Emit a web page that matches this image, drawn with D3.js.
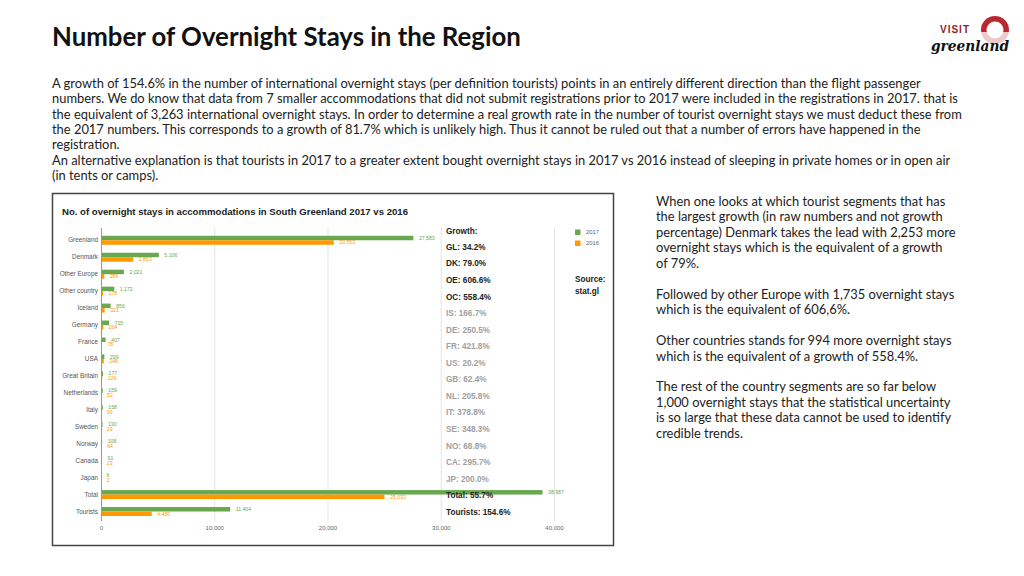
<!DOCTYPE html>
<html><head><meta charset="utf-8">
<script src="https://cdn.jsdelivr.net/npm/d3@7"></script>
<style>
html,body{margin:0;padding:0;background:#fff;}
svg{display:block;}
</style></head>
<body>
<svg id="c" width="1024" height="576"></svg>
<script>
// ---------- DATA ----------
const categories = ["Greenland","Denmark","Other Europe","Other country","Iceland","Germany","France","USA","Great Britain","Netherlands","Italy","Sweden","Norway","Canada","Japan","Total","Tourists"];
const values2017 = [27583,5106,2021,1172,856,715,407,299,177,159,158,130,108,91,6,38987,11404];
const values2016 = [20553,2853,286,178,321,204,78,248,109,52,33,29,64,23,2,25033,4480];
const seriesNames = ["2017","2016"];
const xTicks = [0,10000,20000,30000,40000];
const growthLabels = ["GL: 34.2%","DK: 79.0%","OE: 606.6%","OC: 558.4%","IS: 166.7%","DE: 250.5%","FR: 421.8%","US: 20.2%","GB: 62.4%","NL: 205.8%","IT: 378.8%","SE: 348.3%","NO: 68.8%","CA: 295.7%","JP: 200.0%","Total: 55.7%","Tourists: 154.6%"];
const growthHighlight = [true,true,true,true,false,false,false,false,false,false,false,false,false,false,false,true,true];

const pageTitle = "Number of Overnight Stays in the Region";
const introLines = [
 "A growth of 154.6% in the number of international overnight stays (per definition tourists) points in an entirely different direction than the flight passenger",
 "numbers. We do know that data from 7 smaller accommodations that did not submit registrations prior to 2017 were included in the registrations in 2017. that is",
 "the equivalent of 3,263 international overnight stays. In order to determine a real growth rate in the number of tourist overnight stays we must deduct these from",
 "the 2017 numbers. This corresponds to a growth of 81.7% which is unlikely high. Thus it cannot be ruled out that a number of errors have happened in the",
 "registration.",
 "An alternative explanation is that tourists in 2017 to a greater extent bought overnight stays in 2017 vs 2016 instead of sleeping in private homes or in open air",
 "(in tents or camps)."
];
const sideLines = [
 "When one looks at which tourist segments that has",
 "the largest growth (in raw numbers and not growth",
 "percentage) Denmark takes the lead with 2,253 more",
 "overnight stays which is the equivalent of a growth",
 "of 79%.",
 "",
 "Followed by other Europe with 1,735 overnight stays",
 "which is the equivalent of 606,6%.",
 "",
 "Other countries stands for 994 more overnight stays",
 "which is the equivalent of a growth of 558.4%.",
 "",
 "The rest of the country segments are so far below",
 "1,000 overnight stays that the statistical uncertainty",
 "is so large that these data cannot be used to identify",
 "credible trends."
];
const chartTitle = "No. of overnight stays in accommodations in South Greenland 2017 vs 2016";

// ---------- STYLE ----------
const colors = {"2017":"#6aa84f","2016":"#ff9900"};
const svg = d3.select("#c");

// Page title
svg.append("text").attr("x",52).attr("y",45.5)
  .attr("font-family","Lato").attr("font-weight",700).attr("font-size",25.8)
  .attr("fill","#111").text(pageTitle);

// Intro paragraph
svg.append("g").selectAll("text").data(introLines).join("text")
  .attr("x",52).attr("y",(d,i)=>88+i*15.35)
  .attr("font-family","Lato").attr("font-size",12.9).attr("fill","#222")
  .text(d=>d);

// Side paragraph
svg.append("g").selectAll("text").data(sideLines).join("text")
  .attr("x",656).attr("y",(d,i)=>206+i*15.45)
  .attr("font-family","Lato").attr("font-size",12.9).attr("fill","#222")
  .text(d=>d);

// Logo
const logo = svg.append("g");
logo.append("circle").attr("cx",995).attr("cy",30).attr("r",14).attr("fill","#b8282e");
logo.append("circle").attr("cx",995).attr("cy",30).attr("r",8.5).attr("fill","#fff");
logo.append("rect").attr("x",978).attr("y",32).attr("width",34).attr("height",14).attr("fill","#fff").attr("opacity",0.75);
logo.append("text").attr("x",940).attr("y",33).attr("font-family","Liberation Sans, Arial").attr("font-weight",700)
  .attr("font-size",10).attr("letter-spacing",1).attr("fill","#8e1f2a").text("VISIT");
logo.append("text").attr("x",931).attr("y",51).attr("font-family","DejaVu Serif").attr("font-style","italic")
  .attr("font-weight",700).attr("font-size",15).attr("textLength",78).attr("lengthAdjust","spacingAndGlyphs")
  .attr("fill","#111").text("greenland");

// Chart box
svg.append("rect").attr("x",52.5).attr("y",193.5).attr("width",561).attr("height",352)
  .attr("fill","#fff").attr("stroke","#444").attr("stroke-width",1.5);

svg.append("text").attr("x",62).attr("y",214.5)
  .attr("font-family","Liberation Sans, Arial").attr("font-weight",700).attr("font-size",9.6)
  .attr("fill","#222").text(chartTitle);

// Scales
const x = d3.scaleLinear().domain([0,40000]).range([101,554]);
const y = d3.scaleBand().domain(categories).range([231.8,520]).paddingInner(0.47).paddingOuter(0.235);
const ySub = d3.scaleBand().domain(seriesNames).range([0,y.bandwidth()]);

const plotTop = 228, plotBottom = 521;

// Gridlines
svg.append("g").selectAll("line").data(xTicks.slice(1)).join("line")
  .attr("x1",d=>x(d)+0.5).attr("x2",d=>x(d)+0.5).attr("y1",plotTop).attr("y2",plotBottom)
  .attr("stroke","#e3e3e3").attr("stroke-width",1);

// X axis tick labels
const xAxis = d3.axisBottom(x).tickValues(xTicks).tickSize(0).tickPadding(0).tickFormat(d3.format(","));
const gx = svg.append("g").attr("transform",`translate(0,${plotBottom+5})`).call(xAxis);
gx.select(".domain").remove();
gx.selectAll("text").attr("font-family","Liberation Sans, Arial").attr("font-size",6).attr("fill","#666");

// Y axis labels
const yAxis = d3.axisLeft(y).tickSize(0).tickPadding(3);
const gy = svg.append("g").attr("transform",`translate(${x(0)},0)`).call(yAxis);
gy.select(".domain").remove();
gy.selectAll("text").attr("font-family","Liberation Sans, Arial").attr("font-size",6.4).attr("fill","#555");

// Bars
const rows = categories.map((c,i)=>({cat:c, vals:[{s:"2017",v:values2017[i]},{s:"2016",v:values2016[i]}]}));
const rowG = svg.append("g").selectAll("g").data(rows).join("g")
  .attr("transform",d=>`translate(0,${y(d.cat)})`);
rowG.selectAll("rect").data(d=>d.vals).join("rect")
  .attr("x",x(0)).attr("y",d=>ySub(d.s)).attr("width",d=>Math.max(0,x(d.v)-x(0))).attr("height",ySub.bandwidth())
  .attr("fill",d=>colors[d.s]);
rowG.selectAll("text").data(d=>d.vals).join("text")
  .attr("x",d=>x(d.v)+5.5).attr("y",d=>ySub(d.s)+ySub.bandwidth()/2).attr("dy","0.35em")
  .attr("font-family","Liberation Sans, Arial").attr("font-size",5.2)
  .attr("fill",d=>colors[d.s]).text(d=>d3.format(",")(d.v));

// Zero axis line
svg.append("line").attr("x1",x(0)+0.5).attr("x2",x(0)+0.5).attr("y1",plotTop).attr("y2",plotBottom)
  .attr("stroke","#999").attr("stroke-width",1);

// Growth panel
const gp = svg.append("g").attr("font-family","Liberation Sans, Arial").attr("font-weight",700).attr("font-size",8.2);
gp.append("text").attr("x",446).attr("y",233.5).attr("fill","#222").text("Growth:");
const gy2 = d3.scalePoint().domain(d3.range(growthLabels.length)).range([247,512]);
gp.selectAll("text.g").data(growthLabels).join("text").attr("class","g")
  .attr("x",446).attr("y",(d,i)=>gy2(i)).attr("dy","0.35em")
  .attr("fill",(d,i)=>growthHighlight[i]?"#222":"#a0a0a0").text(d=>d);

// Legend
const lg = svg.append("g").selectAll("g").data(seriesNames).join("g")
  .attr("transform",(d,i)=>`translate(575,${229.5+i*11})`);
lg.append("rect").attr("width",5.5).attr("height",5.5).attr("fill",d=>colors[d]);
lg.append("text").attr("x",11).attr("y",2.8).attr("dy","0.35em")
  .attr("font-family","Liberation Sans, Arial").attr("font-size",5.8).attr("fill","#666").text(d=>d);

// Source
const src = svg.append("g").attr("font-family","Liberation Sans, Arial").attr("font-weight",700).attr("font-size",8.2).attr("fill","#222");
src.append("text").attr("x",575).attr("y",282).text("Source:");
src.append("text").attr("x",575).attr("y",293.5).text("stat.gl");
</script>
</body></html>
